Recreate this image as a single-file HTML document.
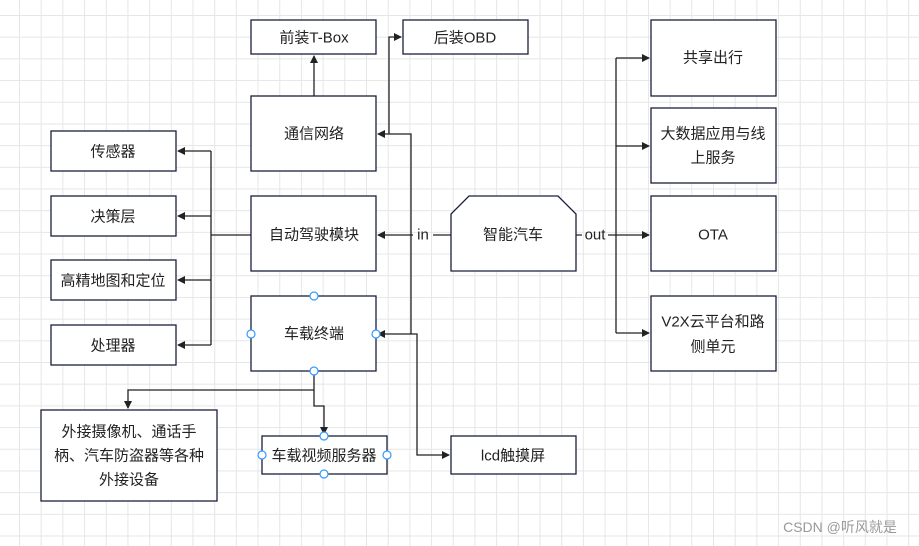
<!DOCTYPE html><html><head><meta charset="utf-8"><style>
body{margin:0;width:919px;height:546px;overflow:hidden;background:#fff;
background-image:linear-gradient(#e6e6e6 1px,transparent 1px),linear-gradient(90deg,#e6e6e6 1px,transparent 1px);background-size:21.7px 21.7px;background-position:19px 15px;}
svg{position:absolute;left:0;top:0}
text{font-family:"Liberation Sans","Noto Sans CJK SC",sans-serif;font-size:15px;fill:#222;text-anchor:middle;dominant-baseline:central}
</style></head><body>
<svg width="919" height="546">
<defs><marker id="a" markerWidth="8" markerHeight="8" refX="7" refY="4" orient="auto" markerUnits="userSpaceOnUse"><path d="M0,0L8,4L0,8z" fill="#222"/></marker></defs>
<g fill="#fff" stroke="#1a1f3c" stroke-width="1.3">
<rect x="251" y="20" width="125" height="34"/><rect x="403" y="20" width="125" height="34"/>
<rect x="251" y="96" width="125" height="75"/><rect x="251" y="196" width="125" height="75"/>
<rect x="251" y="296" width="125" height="75"/>
<rect x="51" y="131" width="125" height="40"/><rect x="51" y="196" width="125" height="40"/>
<rect x="51" y="260" width="125" height="40"/><rect x="51" y="325" width="125" height="40"/>
<rect x="651" y="20" width="125" height="76"/><rect x="651" y="108" width="125" height="75"/>
<rect x="651" y="196" width="125" height="75"/><rect x="651" y="296" width="125" height="75"/>
<rect x="41" y="410" width="176" height="91"/><rect x="262" y="436" width="125" height="38"/>
<rect x="451" y="436" width="125" height="38"/>
<path d="M469,196H558L576,214V271H451V214Z"/>
</g>
<g fill="none" stroke="#222" stroke-width="1.3">
<path d="M314,96V56" marker-end="url(#a)"/>
<path d="M411,334V134H378" marker-end="url(#a)"/>
<path d="M389,134V37H401" marker-end="url(#a)"/>
<path d="M451,235H433M413,235H378" marker-end="url(#a)"/>
<path d="M251,235H211M211,151V345"/>
<path d="M211,151H178" marker-end="url(#a)"/><path d="M211,216H178" marker-end="url(#a)"/>
<path d="M211,280H178" marker-end="url(#a)"/><path d="M211,345H178" marker-end="url(#a)"/>
<path d="M576,235H582M608,235H616M616,58V333"/>
<path d="M616,58H649" marker-end="url(#a)"/><path d="M616,146H649" marker-end="url(#a)"/>
<path d="M616,235H649" marker-end="url(#a)"/><path d="M616,333H649" marker-end="url(#a)"/>
<path d="M411,334H378" marker-end="url(#a)"/>
<path d="M411,334H417V455H449" marker-end="url(#a)"/>
<path d="M314,371V390H128V408" marker-end="url(#a)"/>
<path d="M314,390V406H324V434" marker-end="url(#a)"/>
</g>
<g fill="#fff" stroke="#3399ff" stroke-width="1.2">
<circle cx="314" cy="296" r="4"/><circle cx="314" cy="371" r="4"/><circle cx="251" cy="334" r="4"/><circle cx="376" cy="334" r="4"/>
<circle cx="324" cy="436" r="4"/><circle cx="324" cy="474" r="4"/><circle cx="262" cy="455" r="4"/><circle cx="387" cy="455" r="4"/>
</g>
<text x="314" y="38">前装T-Box</text><text x="465" y="38">后装OBD</text>
<text x="314" y="134">通信网络</text><text x="314" y="235">自动驾驶模块</text><text x="314" y="334">车载终端</text>
<text x="113" y="152">传感器</text><text x="113" y="217">决策层</text><text x="113" y="281">高精地图和定位</text><text x="113" y="346">处理器</text>
<text x="713" y="58">共享出行</text><text x="713" y="134">大数据应用与线</text><text x="713" y="158">上服务</text>
<text x="713" y="235">OTA</text><text x="713" y="322">V2X云平台和路</text><text x="713" y="347">侧单元</text>
<text x="513" y="235">智能汽车</text><text x="423" y="235">in</text><text x="595" y="235">out</text>
<text x="129" y="432">外接摄像机、通话手</text><text x="129" y="456">柄、汽车防盗器等各种</text><text x="129" y="480">外接设备</text>
<text x="324" y="456">车载视频服务器</text><text x="513" y="456">lcd触摸屏</text>
<text x="840" y="527" style="font-size:14px;fill:#999">CSDN @听风就是</text>
</svg></body></html>
